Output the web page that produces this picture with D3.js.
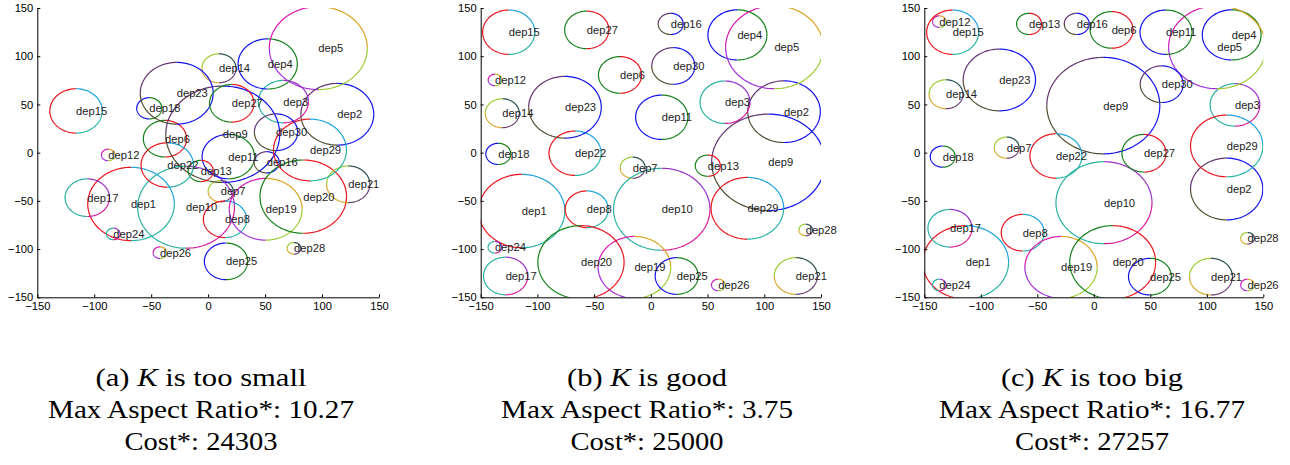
<!DOCTYPE html>
<html><head><meta charset="utf-8">
<script src="https://cdn.jsdelivr.net/npm/d3@7"></script>
<style>body{margin:0;background:#fff}svg{display:block}</style>
</head><body><svg id="chart" width="1290" height="465"></svg>
<script>
// ---------------- data ----------------
const deps = ["dep1","dep2","dep3","dep4","dep5","dep6","dep7","dep8","dep9","dep10",
  "dep11","dep12","dep13","dep14","dep15","dep16","dep17","dep18","dep19","dep20",
  "dep21","dep22","dep23","dep24","dep25","dep26","dep27","dep28","dep29","dep30"];
const radius = [38,32,22,26,43,19,11,19,50,42.5,23,6,11,15,23,11,19.5,11,32,38,19,23,32,6,19,6,19.5,6,32,19];

// panel (a) K too small
const xA = [-67.7,113.4,66,52.3,96.7,-37.9,11,14.8,12.8,-19.4,17.7,-87.7,-6.5,9.5,-116,51.4,-106.1,-51.7,50.5,83.5,123,-35.9,-27.6,-83.3,15.7,-42.3,20.7,75.4,89.4,59.6];
const yA = [-53.2,39.8,52.9,92,108.4,14.5,-40,-69.1,19.1,-56.6,-4.1,-2.4,-19,87.5,43.3,-10,-46.7,46,-58.7,-45.6,-32.8,-12.8,61.6,-84.3,-112.7,-103.7,51.2,-99.2,2.8,21.2];
// panel (b) K good
const xB = [-113.8,117.4,65.4,76.3,108.9,-27.2,-16,-56.5,103.6,9.6,9.6,-137.4,50.2,-131,-125.3,17.5,-128,-134.5,-14.5,-61.6,127.8,-66.8,-75.7,-137.5,22.8,59.5,-56.5,136.5,85.1,19.8];
const yB = [-60.5,42.5,52.3,122.1,109.3,80.6,-15.6,-58.7,-10,-58.7,36.7,75.4,-13.5,40.9,124.9,133.5,-127.9,-1.3,-118.9,-113.7,-127.9,-0.6,47.1,-98.1,-127.9,-137.2,127.3,-80.2,-57.7,89.9];
// panel (c) K too big
const xC = [-113.4,117.6,124.9,122,109.2,15.8,-77.1,-62.9,8.4,9,63.9,-136.7,-57.3,-130.8,-124.9,-15.1,-127.3,-133.7,-29,16.7,103.7,-33.5,-83.6,-136.7,49.7,136,44.4,136,117.6,60.1];
const yC = [-113.7,-37.7,49.5,122.1,109.3,127.3,5.2,-83,48.8,-51.9,124.9,135.9,133.5,60.6,124.9,133.5,-78.4,-4.1,-118.9,-113.7,-128.6,-3.4,75.4,-137.2,-128.6,-137.2,-0.6,-88.8,7,71];

const ticks = [-150,-100,-50,0,50,100,150];
const panelLetter = ["(a)","(b)","(c)"];
const panelPhrase = ["is too small","is good","is too big"];
const maxAspect = ["10.27","3.75","16.77"];
const cost = ["24303","25000","27257"];

// ---------------- styles ----------------
const schemes = [
  [[0,90,"#1ea3dc"],[90,270,"#e8141c"],[270,360,"#22b2a4"]],                              // red/cyan/teal
  [[0,90,"#1010f0"],[90,180,"#623470"],[180,270,"#4e4a2c"],[270,360,"#1010f0"]],          // purple/olive/blue
  [[0,90,"#9b30c8"],[90,270,"#26b0a0"],[270,360,"#d8189a"]],                              // teal/orchid/magenta
  [[0,90,"#138018"],[90,270,"#1010f0"],[270,360,"#138018"]],                              // blue/green
  [[0,90,"#dba524"],[90,180,"#d818b0"],[180,270,"#a32cd8"],[270,360,"#9ccc32"]],          // magenta/violet/gold/yg
  [[0,90,"#e8141c"],[90,270,"#138018"],[270,360,"#e8141c"]],                              // green/red
  [[0,90,"#2a4e50"],[90,180,"#9ccc32"],[180,270,"#d8a626"],[270,360,"#663a6e"]]           // yg/gold/slate/purple
];
const schemeOrder = [0,1,2,3,4,5,6]; // dep i uses scheme (i-1) mod 7

const panels = [
  {x: xA, y: yA, left: 37.3, width: 341.7},
  {x: xB, y: yB, left: 480.7, width: 340.3},
  {x: xC, y: yC, left: 924.3, width: 339}
];
const plotTop = 8, plotBottom = 297.3;
const captionX = [201, 647, 1092];
const captionW = [[211,160,182],[306,292,306],[153,153,154]];

const svg = d3.select("#chart");
svg.append("rect").attr("width",1290).attr("height",465).attr("fill","#fff");

panels.forEach((p, pi) => {
  const xs = d3.scaleLinear().domain([-150,150]).range([p.left, p.left + p.width]);
  const ys = d3.scaleLinear().domain([-150,150]).range([plotBottom, plotTop]);
  const g = svg.append("g");
  const cid = "clip" + pi;
  g.append("clipPath").attr("id", cid).append("rect")
    .attr("x", p.left).attr("y", plotTop).attr("width", p.width).attr("height", plotBottom - plotTop);

  const circles = g.append("g").attr("clip-path", `url(#${cid})`);
  const line = d3.line();
  deps.forEach((d, i) => {
    const r = radius[i], cx = p.x[i], cy = p.y[i];
    const sch = schemes[schemeOrder[i % 7]];
    sch.forEach(([a0, a1, col]) => {
      const pts = d3.range(a0, a1 + 0.01, 2).map(a => {
        const t = a * Math.PI / 180;
        return [xs(cx + r * Math.cos(t)), ys(cy + r * Math.sin(t))];
      });
      circles.append("path").attr("d", line(pts)).attr("fill","none")
        .attr("stroke", col).attr("stroke-width", 1.2);
    });
  });
  const labels = g.append("g");
  deps.forEach((d, i) => {
    labels.append("text").attr("x", xs(p.x[i])).attr("y", ys(p.y[i]))
      .attr("dy","0.35em").attr("font-family","Liberation Sans, Arial, sans-serif")
      .attr("font-size", 11.2).attr("fill","#222").text(d);
  });

  // axes (MATLAB style: ticks inside, box off)
  const xAxis = d3.axisBottom(xs).tickValues(ticks).tickSizeInner(-3).tickSizeOuter(0).tickPadding(5);
  const yAxis = d3.axisLeft(ys).tickValues(ticks).tickSizeInner(-3).tickSizeOuter(0).tickPadding(7);
  const gx = g.append("g").attr("transform", `translate(0,${plotBottom})`).call(xAxis);
  const gy = g.append("g").attr("transform", `translate(${p.left},0)`).call(yAxis);
  [gx, gy].forEach(ax => {
    ax.select(".domain").attr("stroke","#000").attr("stroke-width",1);
    ax.selectAll(".tick line").attr("stroke","#000");
    ax.selectAll(".tick text").attr("font-family","Liberation Sans, Arial, sans-serif")
      .attr("font-size", 11.2).attr("fill","#000");
  });
  gy.selectAll(".tick text").attr("x", -4);

  // captions
  const cap = svg.append("g").attr("font-family","Liberation Serif, Times New Roman, serif")
    .attr("font-size", 25).attr("fill","#000").attr("text-anchor","middle");
  const t1 = cap.append("text").attr("x", captionX[pi]).attr("y", 386)
    .attr("textLength", captionW[0][pi]).attr("lengthAdjust","spacingAndGlyphs");
  t1.append("tspan").text(panelLetter[pi] + " ");
  t1.append("tspan").attr("font-style","italic").text("K");
  t1.append("tspan").text(" " + panelPhrase[pi]);
  cap.append("text").attr("x", captionX[pi]).attr("y", 418)
    .attr("textLength", captionW[1][pi]).attr("lengthAdjust","spacingAndGlyphs")
    .text("Max Aspect Ratio*: " + maxAspect[pi]);
  cap.append("text").attr("x", captionX[pi]).attr("y", 450)
    .attr("textLength", captionW[2][pi]).attr("lengthAdjust","spacingAndGlyphs")
    .text("Cost*: " + cost[pi]);
});
</script>
</body></html>
